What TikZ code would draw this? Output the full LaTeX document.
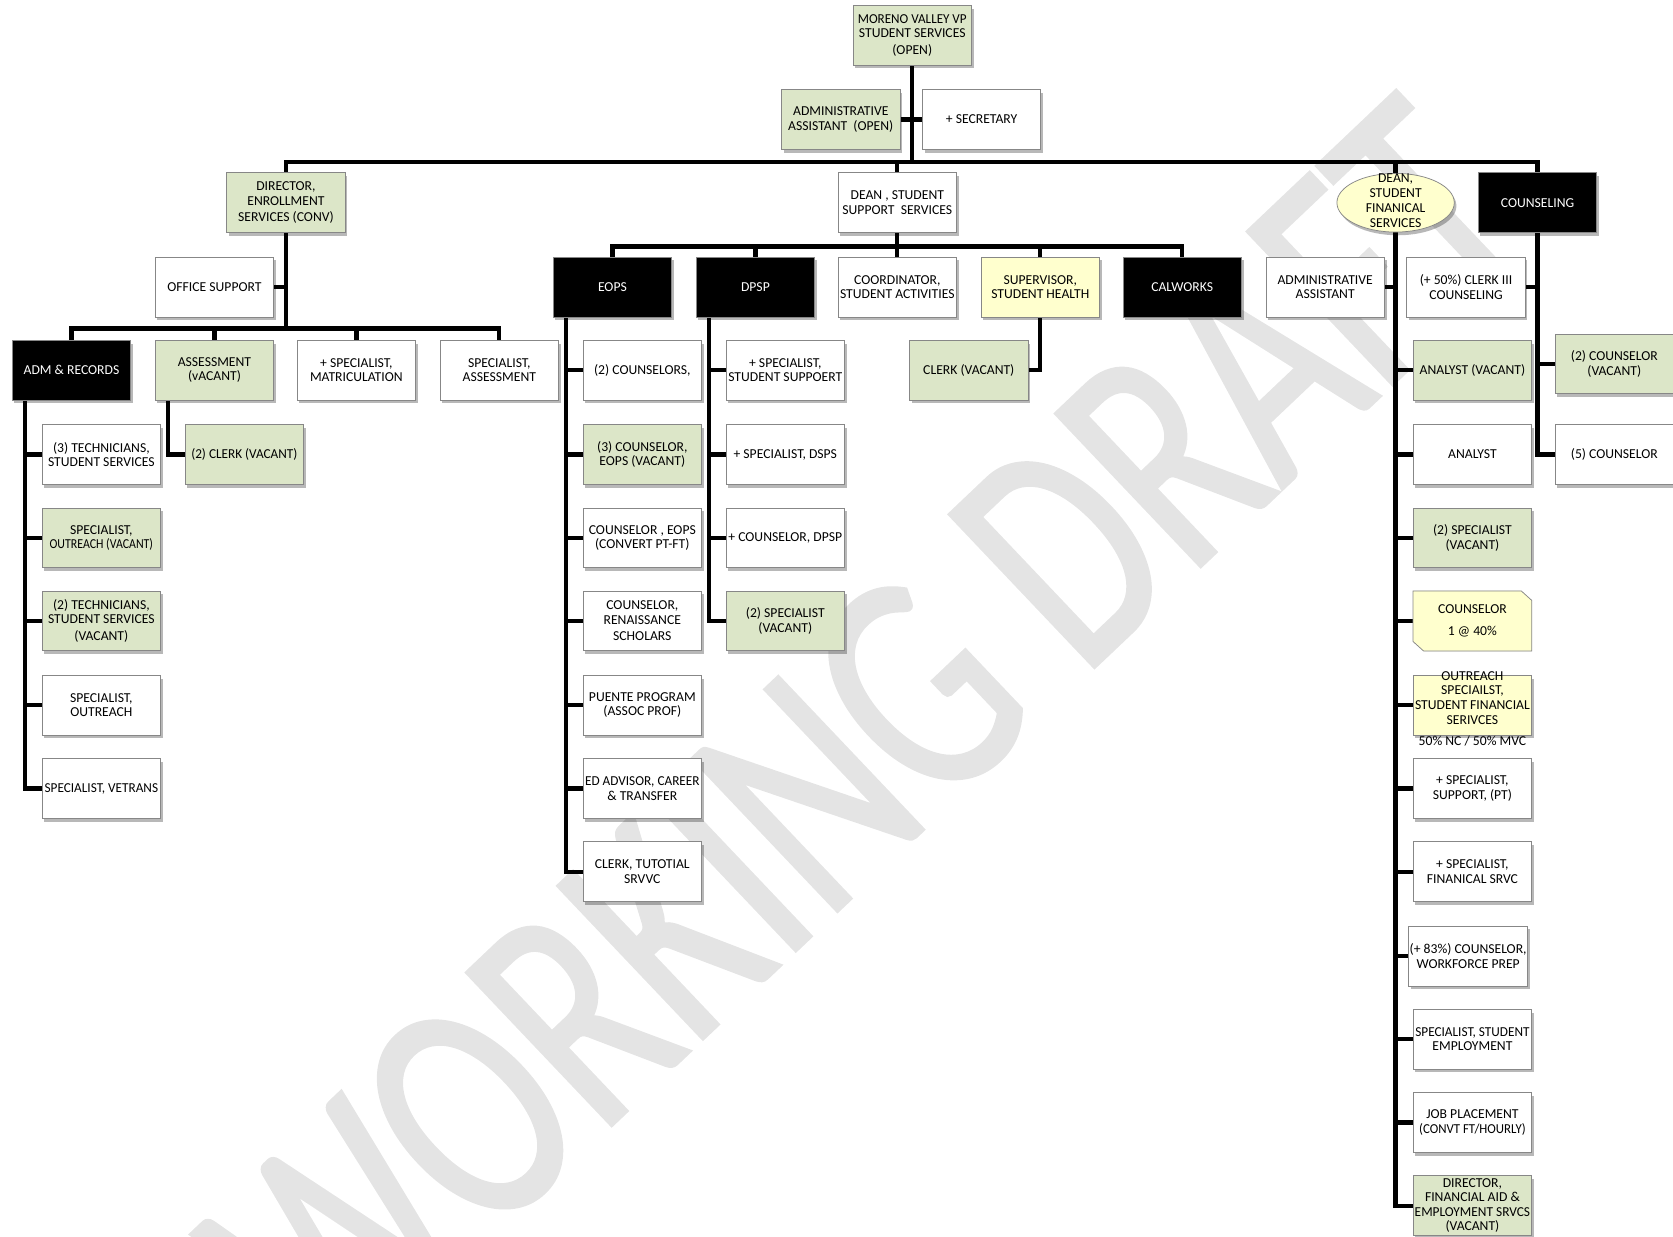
\documentclass[tikz,border=0pt]{standalone}
\usepackage{fontspec}
\setmainfont{Carlito}
\newfontfamily\wmfont[FakeStretch=0.72,FakeBold=1]{Carlito}
\usetikzlibrary{shadows,shapes.geometric}
\definecolor{grn}{RGB}{220,230,200}
\definecolor{ylw}{RGB}{255,255,206}
\definecolor{edge}{RGB}{135,135,135}
\definecolor{wmgray}{RGB}{228,228,228}
\pgfdeclarelayer{wmlayer}
\pgfdeclarelayer{lines}
\pgfsetlayers{wmlayer,lines,main}
\newcommand\squeeze[2][0.97]{\scalebox{#1}[1]{#2}}

\begin{document}
\begin{tikzpicture}[x=1pt,y=-1pt,
  boxfont/.style={font=\fontsize{12.8}{13.5}\selectfont},
  shade/.style={drop shadow={shadow xshift=2pt,shadow yshift=-3pt,opacity=0.28,fill=black}},
  box/.style={rectangle,draw=edge,line width=0.7pt,minimum width=111pt,minimum height=56pt,
              inner sep=1pt,align=center,boxfont,shade},
  wbox/.style={box,fill=white},
  gbox/.style={box,fill=grn},
  ybox/.style={box,fill=ylw},
  kbox/.style={box,fill=black,text=white},
  txt/.style={align=center,inner sep=0pt,boxfont},
  conn/.style={line width=4pt,draw=black}]

\useasboundingbox (0,0) rectangle (1568,1159);

% watermark
\begin{pgfonlayer}{wmlayer}
  \clip (0,0) rectangle (1568,1159);
  \node[text=wmgray,rotate=43.5,inner sep=0pt,font=\wmfont\fontsize{308}{308}\selectfont]
    (wmark) at (812,692) {WORKING DRAFT};
\end{pgfonlayer}

% top level
\node[gbox] (vp) at (855,33) {\squeeze[0.96]{MORENO VALLEY VP}\\STUDENT SERVICES\\[2pt](OPEN)};
\node[gbox] (aa) at (788,112) {ADMINISTRATIVE\\ASSISTANT\ \ (OPEN)};
\node[wbox] (sec) at (920,112) {+ SECRETARY};
\node[gbox] (dir) at (268,190) {DIRECTOR,\\ENROLLMENT\\[2pt]SERVICES (CONV)};
\node[wbox] (dss) at (841,190) {DEAN , STUDENT\\SUPPORT\ \ SERVICES};
\node[ellipse,draw=edge,line width=0.7pt,fill=ylw,minimum width=110pt,minimum height=55pt,
      inner sep=0pt,shade] (dfin) at (1308,190) {};
\node[txt] (dfint) at ([yshift=2pt]dfin.center) {DEAN,\\STUDENT\\[1pt]FINANICAL\\SERVICES};
\node[kbox] (cou) at (1441,190) {COUNSELING};

% enrollment services
\node[wbox] (os) at (201,269) {OFFICE SUPPORT};
\node[kbox] (adm) at (67,347) {ADM \& RECORDS};
\node[gbox] (ass) at (201,347) {ASSESSMENT\\(vACANT)};
\node[wbox] (smat) at (334,347) {+ SPECIALIST,\\MATRICULATION};
\node[wbox] (sass) at (468,347) {SPECIALIST,\\ASSESSMENT};
\node[wbox] (t3) at (95,426) {(3) TECHNICIANS,\\STUDENT SERVICES};
\node[gbox] (so1) at (95,504) {SPECIALIST,\\\squeeze[0.87]{OUTREACH (VACANT)}};
\node[gbox] (t2) at (95,582) {(2) TECHNICIANS,\\STUDENT SERVICES\\[2pt](VACANT)};
\node[wbox] (so2) at (95,661) {SPECIALIST,\\OUTREACH};
\node[wbox] (sv) at (95,739) {\squeeze{SPECIALIST, VETRANS}};
\node[gbox] (clk2) at (229,426) {\squeeze{(2) CLERK (VACANT)}};

% student support services
\node[kbox] (eops) at (574,269) {EOPS};
\node[kbox] (dpsp) at (708,269) {DPSP};
\node[wbox] (coord) at (841,269) {COORDINATOR,\\STUDENT ACTIVITIES};
\node[ybox] (sup) at (975,269) {SUPERVISOR,\\STUDENT HEALTH};
\node[kbox] (calw) at (1108,269) {CALWORKS};
\node[gbox] (clkv) at (908,347) {CLERK (VACANT)};

\node[wbox] (e1) at (602,347) {(2) COUNSELORS,};
\node[gbox] (e2) at (602,426) {(3) COUNSELOR,\\EOPS (VACANT)};
\node[wbox] (e3) at (602,504) {COUNSELOR , EOPS\\(CONVERT PT-FT)};
\node[wbox] (e4) at (602,582) {COUNSELOR,\\RENAISSANCE\\[2pt]SCHOLARS};
\node[wbox] (e5) at (602,661) {PUENTE PROGRAM\\(ASSOC PROF)};
\node[wbox] (e6) at (602,739) {\squeeze{ED ADVISOR, CAREER}\\\& TRANSFER};
\node[wbox] (e7) at (602,817) {CLERK, TUTOTIAL\\SRVVC};

\node[wbox] (d1) at (736,347) {+ SPECIALIST,\\STUDENT SUPPOERT};
\node[wbox] (d2) at (736,426) {+ SPECIALIST, DSPS};
\node[wbox] (d3) at (736,504) {+ COUNSELOR, DPSP};
\node[gbox] (d4) at (736,582) {(2) SPECIALIST\\(VACANT)};

% student financial services
\node[wbox] (faa) at (1242,269) {ADMINISTRATIVE\\ASSISTANT};
\node[gbox] (f1) at (1380,347) {ANALYST (VACANT)};
\node[wbox] (f2) at (1380,426) {ANALYST};
\node[gbox] (f3) at (1380,504) {(2) SPECIALIST\\(VACANT)};
\node[rectangle,minimum width=111pt,minimum height=56pt,inner sep=0pt] (f4) at (1380,582) {};
\begin{scope}[shift={(2,3)}]
  \fill[black,opacity=0.28] (f4.north west) -- ([xshift=-10pt]f4.north east) -- ([yshift=-9pt]f4.north east)
    -- (f4.south east) -- ([xshift=10pt]f4.south west) -- ([yshift=9pt]f4.south west) -- cycle;
\end{scope}
\draw[edge,line width=0.7pt,fill=ylw] (f4.north west) -- ([xshift=-10pt]f4.north east) -- ([yshift=-9pt]f4.north east)
    -- (f4.south east) -- ([xshift=10pt]f4.south west) -- ([yshift=9pt]f4.south west) -- cycle;
\node[txt] (f4t) at (f4) {COUNSELOR\\[7pt]1 @ 40\%};
\node[ybox] (f5) at (1380,661) {};
\node[txt] (f5t) at ([yshift=-3pt]f5.center) {OUTREACH\\SPECIAILST,\\[1pt]STUDENT FINANCIAL\\SERIVCES\\[6pt]50\% NC / 50\% MVC};
\node[wbox] (f6) at (1380,739) {+ SPECIALIST,\\SUPPORT, (PT)};
\node[wbox] (f7) at (1380,817) {+ SPECIALIST,\\FINANICAL SRVC};
\node[wbox] (f8) at (1376,896) {(+ 83\%) COUNSELOR,\\WORKFORCE PREP};
\node[wbox] (f9) at (1380,974) {\squeeze{SPECIALIST, STUDENT}\\EMPLOYMENT};
\node[wbox] (f10) at (1380,1052) {JOB PLACEMENT\\\squeeze[0.94]{(CONVT FT/HOURLY)}};
\node[gbox] (f11) at (1380,1130) {DIRECTOR,\\FINANCIAL AID \&\\\squeeze[0.98]{EMPLOYMENT SRVCS}\\(VACANT)};

% counseling
\node[wbox] (c0) at (1374,269) {(+ 50\%) CLERK III\\COUNSELING};
\node[gbox] (c1) at (1513,341) {(2) COUNSELOR\\(VACANT)};
\node[wbox] (c2) at (1513,426) {(5) COUNSELOR};

% connectors
\begin{pgfonlayer}{lines}
  \coordinate (bar1) at (0,152);
  \draw[conn] (dir.north) -- (dir.north |- bar1) -| (cou.north);
  \draw[conn] (vp.south) -- (vp.south |- bar1);
  \draw[conn] (aa.east) -- (sec.west);
  \draw[conn] (dss.north) -- (dss.north |- bar1);
  \draw[conn] (dfin.north) -- (dfin.north |- bar1);

  \coordinate (bar2) at (0,308);
  \draw[conn] (dir.south) -- (dir.south |- bar2);
  \draw[conn] (os.east) -- (os.east -| dir.south);
  \draw[conn] (adm.north) -- (adm.north |- bar2) -| (sass.north);
  \draw[conn] (ass.north) -- (ass.north |- bar2);
  \draw[conn] (smat.north) -- (smat.north |- bar2);
  \coordinate (admt) at ([xshift=12pt]adm.south west);
  \draw[conn] (admt) |- (sv.west);
  \foreach \n in {t3,so1,t2,so2} \draw[conn] (\n.west) -- (\n.west -| admt);
  \coordinate (asst) at ([xshift=12pt]ass.south west);
  \draw[conn] (asst) |- (clk2.west);

  \coordinate (bar3) at (0,231);
  \draw[conn] (dss.south) -- (dss.south |- bar3);
  \draw[conn] (eops.north) -- (eops.north |- bar3) -| (calw.north);
  \foreach \n in {dpsp,coord,sup} \draw[conn] (\n.north) -- (\n.north |- bar3);
  \coordinate (eopst) at ([xshift=12pt]eops.south west);
  \draw[conn] (eopst) |- (e7.west);
  \foreach \n in {e1,e2,e3,e4,e5,e6} \draw[conn] (\n.west) -- (\n.west -| eopst);
  \coordinate (dpspt) at ([xshift=12pt]dpsp.south west);
  \draw[conn] (dpspt) |- (d4.west);
  \foreach \n in {d1,d2,d3} \draw[conn] (\n.west) -- (\n.west -| dpspt);
  \draw[conn] (sup.south) |- (clkv.east);

  \draw[conn] (dfin.south) |- (f11.west);
  \draw[conn] (faa.east) -- (faa.east -| dfin.south);
  \foreach \n in {f1,f2,f3,f4,f5,f6,f7,f8,f9,f10} \draw[conn] (\n.west) -- (\n.west -| dfin.south);

  \draw[conn] (cou.south) |- (c2.west);
  \draw[conn] (c0.east) -- (c0.east -| cou.south);
  \draw[conn] (c1.west) -- (c1.west -| cou.south);
\end{pgfonlayer}
\end{tikzpicture}
\end{document}
